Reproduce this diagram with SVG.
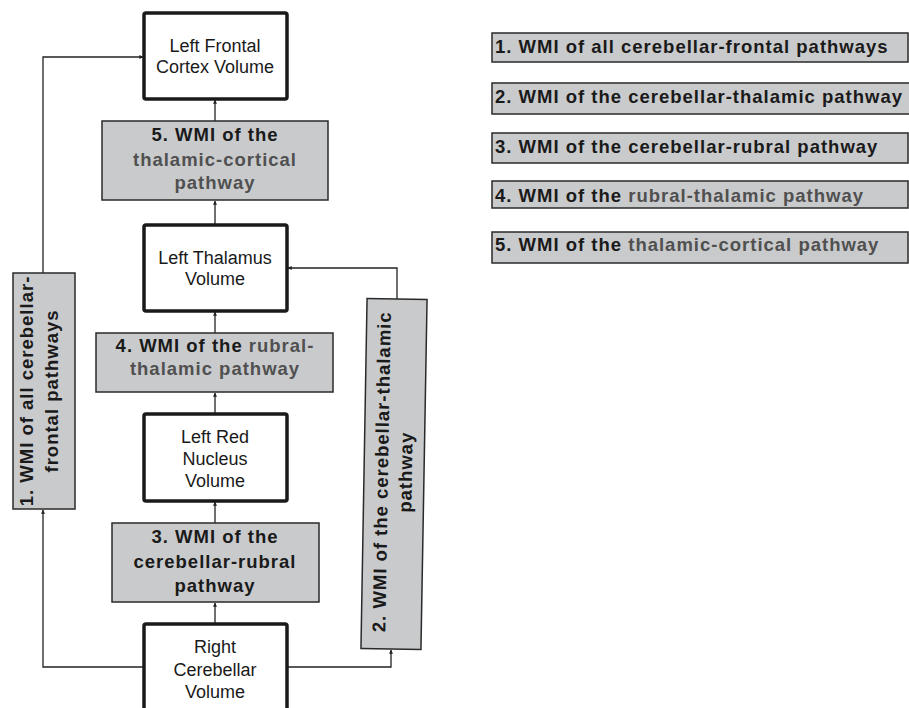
<svg xmlns="http://www.w3.org/2000/svg" width="909" height="708" viewBox="0 0 909 708">
<defs>
<style>
.node{fill:#fff;stroke:#1a1a1a;stroke-width:3.5}
.gbox{fill:#c9cacc;stroke:#2a2a2a;stroke-width:1.5}
.nt{font-family:"Liberation Sans",Arial,sans-serif;font-size:18px;fill:#1a1a1a;text-anchor:middle}
.bt{font-family:"Liberation Sans",Arial,sans-serif;font-size:18.5px;font-weight:bold;fill:#1a1a1a;letter-spacing:1px}
.c{text-anchor:middle}
.g{fill:#505050}
.con{fill:none;stroke:#222;stroke-width:1.3}
</style>
<marker id="ah" viewBox="0 0 6 6" refX="5.5" refY="3" markerWidth="4" markerHeight="4" orient="auto" markerUnits="userSpaceOnUse">
<path d="M0,0 L6,3 L0,6 z" fill="#222"/>
</marker>
</defs>

<g id="connectors">
<path class="con" d="M143,667 H43 V510" marker-end="url(#ah)"/>
<path class="con" d="M43,273 V57 H143" marker-end="url(#ah)"/>
<path class="con" d="M287,667 H391 V650" marker-end="url(#ah)"/>
<path class="con" d="M397,299 V268 H288" marker-end="url(#ah)"/>
<path class="con" d="M215,624 V603" marker-end="url(#ah)"/>
<path class="con" d="M215,523 V502" marker-end="url(#ah)"/>
<path class="con" d="M215,414 V393" marker-end="url(#ah)"/>
<path class="con" d="M215,333 V312" marker-end="url(#ah)"/>
<path class="con" d="M215,225 V201" marker-end="url(#ah)"/>
<path class="con" d="M215,121 V100" marker-end="url(#ah)"/>
</g>

<g id="frontal">
<rect class="node" x="144" y="13" width="143" height="86" rx="2"/>
<text class="nt" x="215" y="52">Left Frontal</text>
<text class="nt" x="215" y="73">Cortex Volume</text>
</g>

<g id="wmi5">
<rect class="gbox" x="102" y="121" width="226" height="79"/>
<text class="bt c" x="215" y="141">5. WMI of the</text>
<text class="bt c g" x="215" y="166">thalamic-cortical</text>
<text class="bt c g" x="215" y="189">pathway</text>
</g>

<g id="thalamus">
<rect class="node" x="144" y="225" width="143" height="86" rx="2"/>
<text class="nt" x="215" y="264">Left Thalamus</text>
<text class="nt" x="215" y="285">Volume</text>
</g>

<g id="wmi4">
<rect class="gbox" x="96" y="333" width="237" height="59"/>
<text class="bt c" x="215" y="352">4. WMI of the <tspan class="g">rubral-</tspan></text>
<text class="bt c g" x="215" y="375">thalamic pathway</text>
</g>

<g id="rednucleus">
<rect class="node" x="144" y="414" width="143" height="87" rx="2"/>
<text class="nt" x="215" y="443">Left Red</text>
<text class="nt" x="215" y="465">Nucleus</text>
<text class="nt" x="215" y="487">Volume</text>
</g>

<g id="wmi3">
<rect class="gbox" x="112" y="523" width="207" height="79"/>
<text class="bt c" x="215" y="543">3. WMI of the</text>
<text class="bt c" x="215" y="568">cerebellar-rubral</text>
<text class="bt c" x="215" y="592">pathway</text>
</g>

<g id="cerebellar">
<rect class="node" x="144" y="624" width="143" height="92" rx="2"/>
<text class="nt" x="215" y="653">Right</text>
<text class="nt" x="215" y="676">Cerebellar</text>
<text class="nt" x="215" y="698">Volume</text>
</g>

<g id="wmi1">
<rect class="gbox" x="13" y="273" width="62" height="236"/>
<text class="bt c" transform="translate(33,391) rotate(-90)" x="0" y="0">1. WMI of all cerebellar-</text>
<text class="bt c" transform="translate(58,391) rotate(-90)" x="0" y="0">frontal pathways</text>
</g>

<g id="wmi2" transform="rotate(1,394,474)">
<rect class="gbox" x="364" y="299" width="60" height="350"/>
<text class="bt c" transform="translate(388,472) rotate(-90)" x="0" y="0">2. WMI of the cerebellar-thalamic</text>
<text class="bt c" transform="translate(412,472) rotate(-90)" x="0" y="0">pathway</text>
</g>

<g id="legend">
<rect class="gbox" x="492" y="33" width="416" height="29"/>
<text class="bt" x="495" y="53">1. WMI of all cerebellar-frontal pathways</text>
<rect class="gbox" x="492" y="83" width="420" height="31"/>
<text class="bt" x="495" y="103">2. WMI of the cerebellar-thalamic pathway</text>
<rect class="gbox" x="492" y="133" width="416" height="30"/>
<text class="bt" x="495" y="153">3. WMI of the cerebellar-rubral pathway</text>
<rect class="gbox" x="492" y="181" width="416" height="27"/>
<text class="bt" x="495" y="202">4. WMI of the <tspan class="g">rubral-thalamic pathway</tspan></text>
<rect class="gbox" x="492" y="232" width="416" height="31"/>
<text class="bt" x="495" y="251">5. WMI of the <tspan class="g">thalamic-cortical pathway</tspan></text>
</g>
</svg>
